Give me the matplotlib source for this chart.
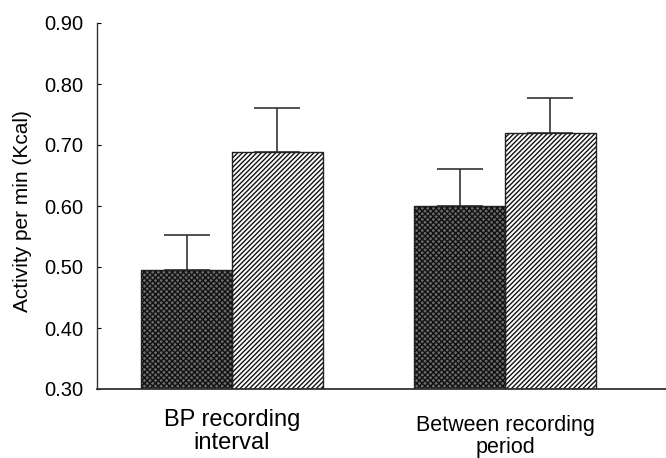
import matplotlib
matplotlib.use("Agg")
import matplotlib.pyplot as plt
import matplotlib.transforms as mtransforms
import numpy as np

plt.rcParams['font.family'] = ['Liberation Sans', 'DejaVu Sans']
plt.rcParams['hatch.linewidth'] = 1.0

categories = ["BP recording\ninterval", "Between recording\nperiod"]
series_a = [0.495, 0.600]     # dark cross-hatched bars
series_a_err = [0.058, 0.060]
series_b = [0.689, 0.720]     # diagonal-hatched bars
series_b_err = [0.071, 0.057]
yticks = [0.30, 0.40, 0.50, 0.60, 0.70, 0.80, 0.90]

fig = plt.figure(figsize=(6.66, 4.58), dpi=100)
ax = fig.add_axes([97/666, 1 - 389/458, 1 - 97/666, (389 - 23)/458])

x = np.arange(len(categories))
w = 0.333
base = 0.30

# dark bars: gray face with dense crosshatch
ax.bar(x - w/2, np.array(series_a) - base, w, bottom=base, color='#6a6a6a',
       edgecolor='#111111', hatch='xxxxxx', linewidth=0, zorder=2)
ax.bar(x - w/2, np.array(series_a) - base, w, bottom=base, fill=False,
       edgecolor='#222222', linewidth=1.0, zorder=3)
# hatched bars
ax.bar(x + w/2, np.array(series_b) - base, w, bottom=base, color='white',
       edgecolor='#111111', hatch='///////', linewidth=0, zorder=2)
ax.bar(x + w/2, np.array(series_b) - base, w, bottom=base, fill=False,
       edgecolor='#222222', linewidth=1.0, zorder=3)

# error bars (upper only)
ax.errorbar(x - w/2, series_a, yerr=[np.zeros(2), series_a_err], fmt='none',
            ecolor='#333333', elinewidth=1.2, capsize=16.5, capthick=1.2, zorder=1)
ax.errorbar(x + w/2, series_b, yerr=[np.zeros(2), series_b_err], fmt='none',
            ecolor='#333333', elinewidth=1.2, capsize=16.5, capthick=1.2, zorder=1)

ax.set_xlim(-0.4945, 1.59)
ax.set_ylim(0.30, 0.90)
ax.set_yticks(yticks)
ax.set_yticklabels([f"{v:.2f}" for v in yticks], fontsize=14.5)
ax.set_xticks(x)
ax.set_xticklabels([])
ax.tick_params(axis='x', length=0)
ax.tick_params(axis='y', direction='in', length=3, width=0.8, pad=10)

# category labels (slightly different sizes/positions as in the reference)
trans = mtransforms.blended_transform_factory(ax.transData, ax.transAxes)
label_sizes = [17, 15.5]
label_y = [-0.055, -0.072]
label_ls = [1.08, 1.02]
for xi, lab, fs, yy, ls in zip(x, categories, label_sizes, label_y, label_ls):
    ax.text(xi, yy, lab, transform=trans, ha='center', va='top',
            fontsize=fs, linespacing=ls, multialignment='center')

for s in ['top', 'right']:
    ax.spines[s].set_visible(False)
ax.spines['left'].set_linewidth(1.0)
ax.spines['bottom'].set_linewidth(1.3)
ax.spines['left'].set_color('#333333')
ax.spines['bottom'].set_color('#333333')

ax.set_ylabel("Activity per min (Kcal)", fontsize=15)
ax.yaxis.set_label_coords(-0.114, 0.486)

fig.savefig("out.png", dpi=100)
